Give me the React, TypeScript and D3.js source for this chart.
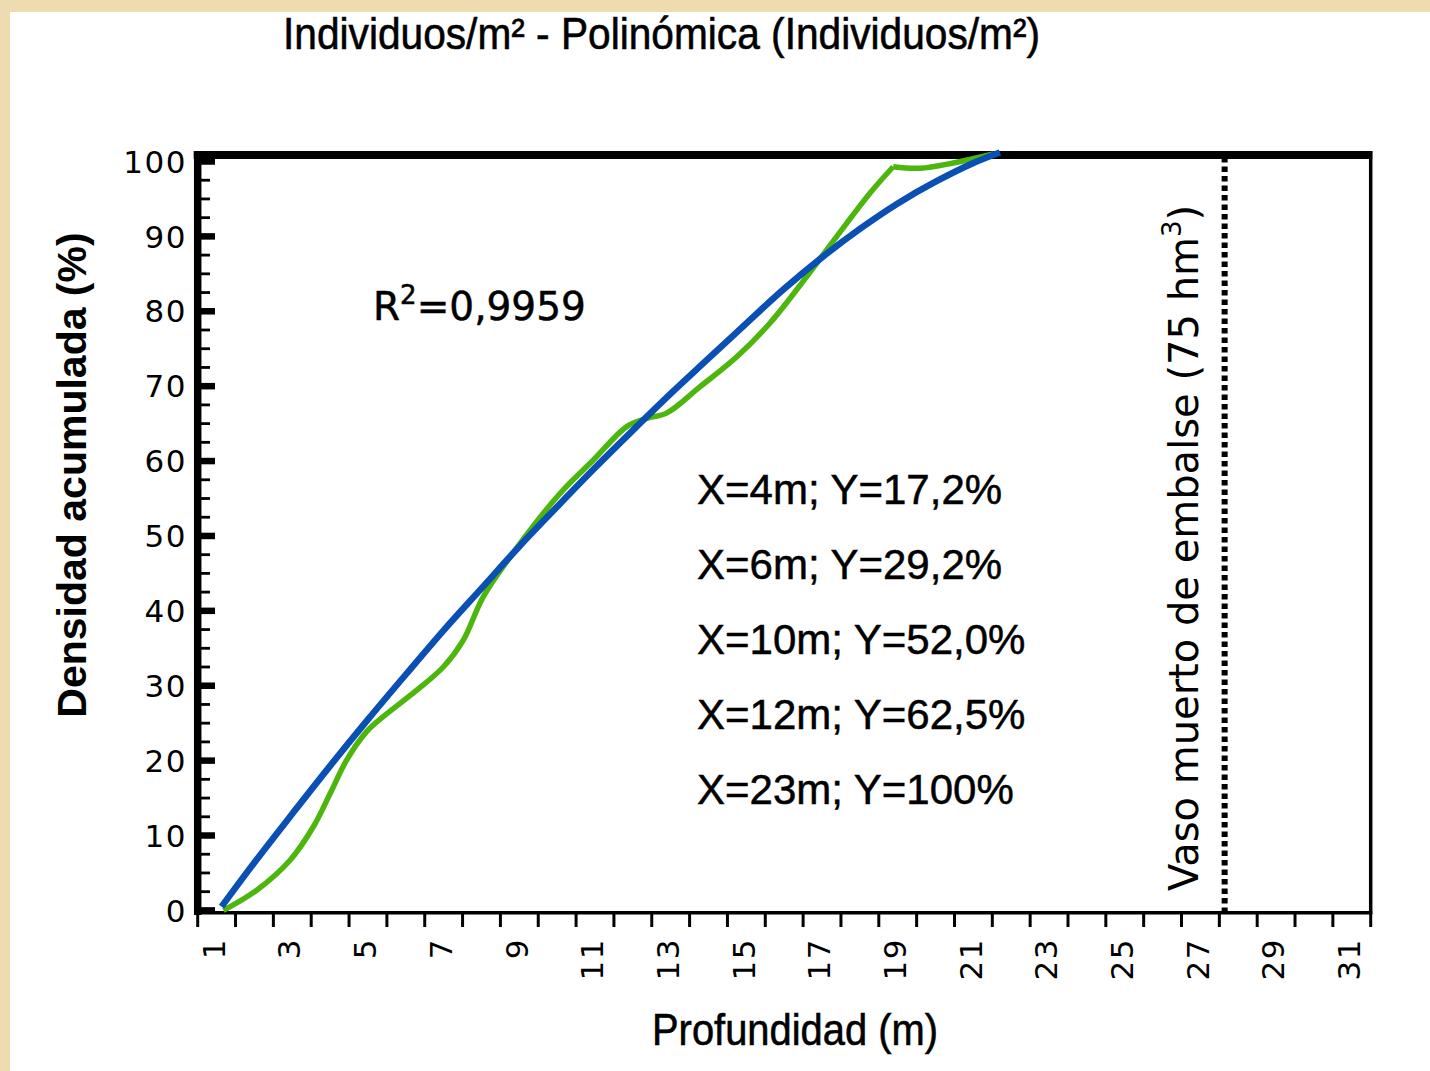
import React, { useEffect, useRef } from 'react';
import * as d3 from 'd3';

const W = 1430;
const H = 1071;

// categorías del eje X (profundidad, m)
const depthCategories = [1, 2, 3, 4, 5, 6, 7, 8, 9, 10, 11, 12, 13, 14, 15, 16, 17, 18, 19, 20, 21, 22, 23, 24, 25, 26, 27, 28, 29, 30, 31];
const depthLabels = ['1', '3', '5', '7', '9', '11', '13', '15', '17', '19', '21', '23', '25', '27', '29', '31'];

// eje Y (%)
const densityTicks = [0, 10, 20, 30, 40, 50, 60, 70, 80, 90, 100];

const observedDepth = [1.18, 2.06, 2.94, 3.56, 4.0, 4.44, 4.97, 5.41, 6.29, 6.99, 7.52, 8.05, 9.02, 10.08, 10.95, 11.84, 12.37, 12.89, 13.77, 14.74, 15.62, 16.59, 17.39, 18.27, 18.88];
const observedDensity = [0, 2.7, 6.7, 11.2, 15.6, 20.1, 23.9, 25.9, 29.4, 32.5, 36.1, 41.9, 49.0, 55.7, 60.1, 64.6, 65.7, 66.4, 69.9, 73.9, 78.4, 84.6, 90.0, 95.8, 99.3];
// tramo final tras el quiebre
const observedTailDepth = [18.88, 19.59, 20.47, 21.53];
const observedTailDensity = [99.3, 99.1, 99.8, 101.0];

// ajuste polinómico (azul)
const polyDepth = [1.13, 2, 3, 4, 5, 6, 7, 8, 9, 10, 11, 12, 13, 14, 15, 16, 17, 18, 19, 20, 21, 21.7];
const polyDensity = [0.5, 6.4, 12.9, 19.3, 25.5, 31.5, 37.4, 43.0, 48.6, 53.9, 59.1, 64.1, 69.0, 73.7, 78.4, 83.0, 87.2, 91.0, 94.4, 97.3, 99.8, 101.2];

const deadVolumeDepth = 27.64;

const annotations = ['X=4m; Y=17,2%', 'X=6m; Y=29,2%', 'X=10m; Y=52,0%', 'X=12m; Y=62,5%', 'X=23m; Y=100%'];

export default function App() {
  const ref = useRef<SVGSVGElement | null>(null);

  useEffect(() => {
    const svg = d3.select(ref.current);
    svg.selectAll('*').remove();

    const left = 197.7, right = 1370.7, top = 161.5, bottom = 910.4;

    const xBand = d3.scaleBand<number>().domain(depthCategories).range([left, right]).padding(0);
    const x = d3.scaleLinear().domain([0.5, 31.5]).range([left, right]);
    const y = d3.scaleLinear().domain([0, 100]).range([bottom, top]);

    // fondo pergamino + panel blanco
    svg.append('rect').attr('width', W).attr('height', H).attr('fill', '#eedcb0');
    svg.append('rect').attr('x', 10).attr('y', 12).attr('width', W - 10).attr('height', H - 12).attr('fill', '#fff');

    svg.append('text')
      .attr('x', 283).attr('y', 49)
      .attr('font-family', 'Liberation Sans, Arial, sans-serif')
      .attr('font-size', 44)
      .attr('textLength', 757).attr('lengthAdjust', 'spacingAndGlyphs')
      .attr('stroke', '#000').attr('stroke-width', 0.6)
      .text('Individuos/m² - Polinómica (Individuos/m²)');

    // marco
    const frame = svg.append('g');
    frame.append('line').attr('x1', left - 4).attr('x2', right + 1.5).attr('y1', 155).attr('y2', 155)
      .attr('stroke', '#000').attr('stroke-width', 8);
    frame.append('line').attr('x1', right).attr('x2', right).attr('y1', 151).attr('y2', 914)
      .attr('stroke', '#000').attr('stroke-width', 3.5);
    frame.append('line').attr('x1', left).attr('x2', right + 1.5).attr('y1', 912.8).attr('y2', 912.8)
      .attr('stroke', '#000').attr('stroke-width', 3.5);
    frame.append('line').attr('x1', left).attr('x2', left).attr('y1', 151).attr('y2', 915)
      .attr('stroke', '#000').attr('stroke-width', 7.5);

    // ticks Y
    const minor = d3.range(0, 100.01, 2.5).filter(v => v % 10 !== 0);
    frame.selectAll('.ymin').data(minor).enter().append('line')
      .attr('x1', left).attr('x2', 210).attr('y1', d => y(d)).attr('y2', d => y(d))
      .attr('stroke', '#000').attr('stroke-width', 2.8);
    frame.selectAll('.ymaj').data(densityTicks).enter().append('line')
      .attr('x1', left).attr('x2', 215).attr('y1', d => y(d)).attr('y2', d => y(d))
      .attr('stroke', '#000').attr('stroke-width', 6.5);
    svg.selectAll('.ylab').data(densityTicks).enter().append('text')
      .attr('x', 187).attr('y', d => y(d)).attr('dy', '0.36em')
      .attr('text-anchor', 'end')
      .attr('font-family', 'DejaVu Sans, sans-serif')
      .attr('font-size', 31)
      .attr('letter-spacing', 1.5)
      .text(d => String(d));

    // ticks X (entre categorías)
    const xTicks = depthCategories.map(c => xBand(c) as number).concat([right]);
    frame.selectAll('.xt').data(xTicks).enter().append('line')
      .attr('x1', d => d).attr('x2', d => d).attr('y1', 912).attr('y2', 927)
      .attr('stroke', '#000').attr('stroke-width', 3);
    svg.selectAll('.xlab').data(depthLabels).enter().append('text')
      .attr('transform', d => `translate(${(xBand(+d) as number) + xBand.bandwidth() / 2 - 3},938) rotate(-90)`)
      .attr('dy', '0.36em')
      .attr('text-anchor', 'end')
      .attr('font-family', 'DejaVu Sans, sans-serif')
      .attr('font-size', 31)
      .attr('letter-spacing', 1.5)
      .text(d => d);

    // vaso muerto
    svg.append('line')
      .attr('x1', x(deadVolumeDepth)).attr('x2', x(deadVolumeDepth))
      .attr('y1', 157).attr('y2', 912)
      .attr('stroke', '#000').attr('stroke-width', 6)
      .attr('stroke-dasharray', '5.5 4');

    const vText = svg.append('text')
      .attr('transform', 'translate(1198,548) rotate(-90)')
      .attr('text-anchor', 'middle')
      .attr('font-family', 'DejaVu Sans, sans-serif')
      .attr('font-size', 40);
    vText.append('tspan').text('Vaso muerto de embalse (75 hm');
    vText.append('tspan').attr('font-size', 26).attr('dy', -17).text('3');
    vText.append('tspan').attr('dy', 17).text(')');

    // líneas
    const line = d3.line<[number, number]>()
      .x(d => x(d[0])).y(d => y(d[1]))
      .curve(d3.curveCatmullRom.alpha(0.5));

    const observed = observedDepth.map((d, i) => [d, observedDensity[i]] as [number, number]);
    const tail = observedTailDepth.map((d, i) => [d, observedTailDensity[i]] as [number, number]);
    const poly = polyDepth.map((d, i) => [d, polyDensity[i]] as [number, number]);

    [observed, tail].forEach(pts => {
      svg.append('path').attr('d', line(pts))
        .attr('fill', 'none').attr('stroke', '#4db60c').attr('stroke-width', 5.5)
        .attr('stroke-linejoin', 'round');
    });
    svg.append('path').attr('d', line(poly))
      .attr('fill', 'none').attr('stroke', '#0a50b4').attr('stroke-width', 6.5);

    // textos
    const r2 = svg.append('text')
      .attr('x', 373).attr('y', 320)
      .attr('font-family', 'DejaVu Sans, sans-serif')
      .attr('font-size', 39)
      .attr('stroke', '#000').attr('stroke-width', 0.5);
    r2.append('tspan').text('R');
    r2.append('tspan').attr('font-size', 26).attr('dy', -16).text('2');
    r2.append('tspan').attr('dy', 16).text('=0,9959');

    svg.selectAll('.ann').data(annotations).enter().append('text')
      .attr('x', 697).attr('y', (d, i) => 503.5 + i * 75)
      .attr('font-family', 'Liberation Sans, Arial, sans-serif')
      .attr('font-size', 42)
      .attr('stroke', '#000').attr('stroke-width', 0.5)
      .text(d => d);

    svg.append('text')
      .attr('transform', 'translate(86,475) rotate(-90)')
      .attr('text-anchor', 'middle')
      .attr('font-family', 'Liberation Sans, Arial, sans-serif')
      .attr('font-weight', 'bold')
      .attr('font-size', 41)
      .text('Densidad acumulada (%)');

    svg.append('text')
      .attr('x', 652).attr('y', 1045)
      .attr('font-family', 'Liberation Sans, Arial, sans-serif')
      .attr('font-size', 44)
      .attr('textLength', 286).attr('lengthAdjust', 'spacingAndGlyphs')
      .attr('stroke', '#000').attr('stroke-width', 0.6)
      .text('Profundidad (m)');
  }, []);

  return (
    <div style={{ position: 'absolute', left: 0, top: 0 }}>
      <svg ref={ref} width={W} height={H} style={{ display: 'block' }} />
    </div>
  );
}
